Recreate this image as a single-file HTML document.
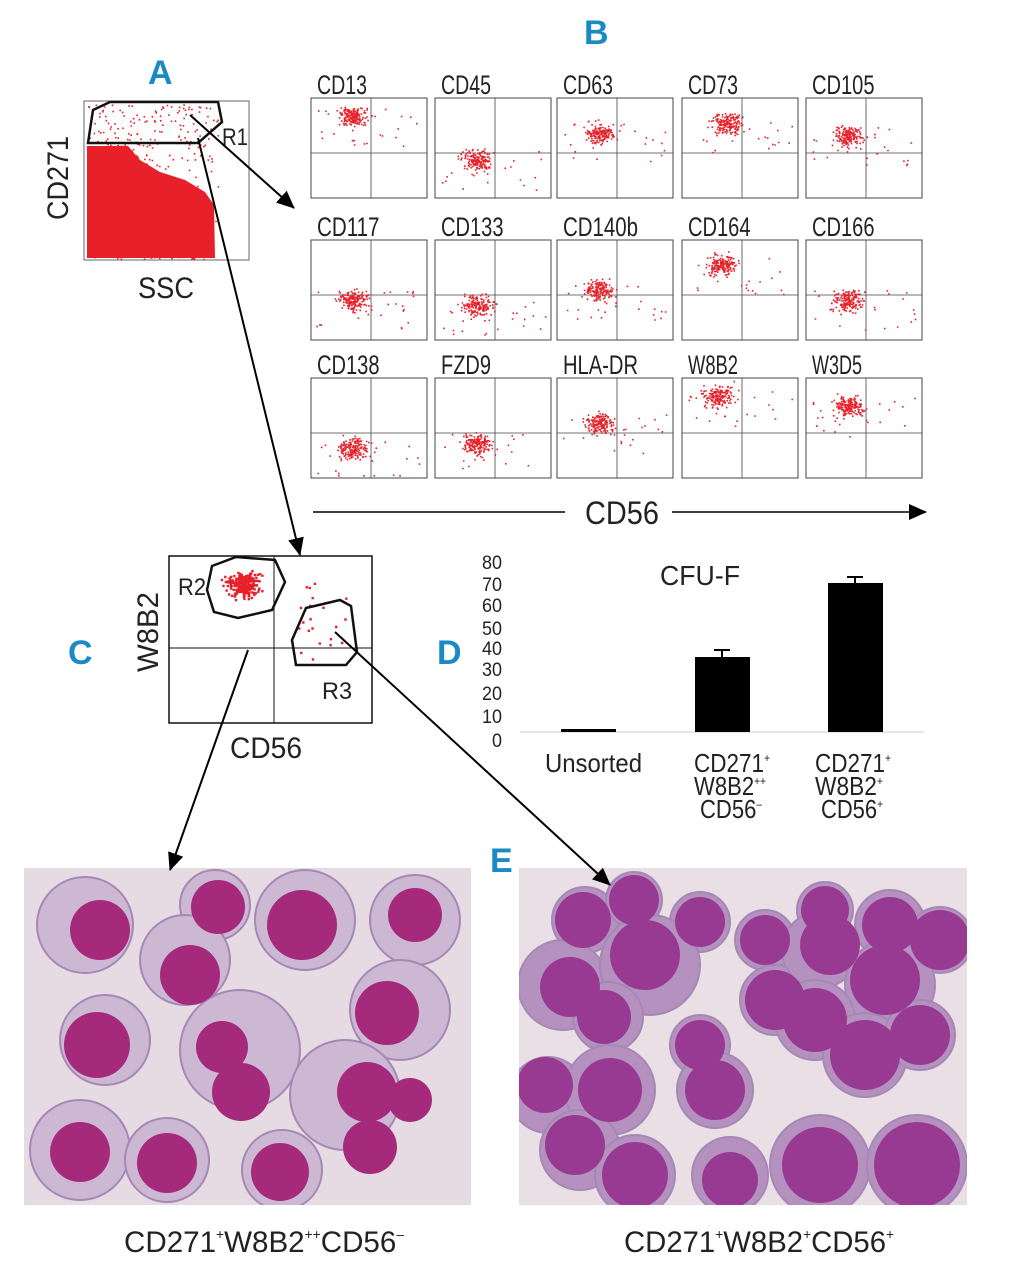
<!DOCTYPE html>
<html><head><meta charset="utf-8"><style>
html,body{margin:0;padding:0;background:#fff}
svg{display:block}
text{font-family:"Liberation Sans Narrow","Liberation Sans",sans-serif;fill:#222}
.L{font-family:"Liberation Sans",sans-serif;font-weight:bold;fill:#1a8ac4}
</style></head><body>
<svg id="s" width="1016" height="1280" viewBox="0 0 1016 1280" xmlns="http://www.w3.org/2000/svg">
<defs>
<marker id="ah2" markerWidth="18" markerHeight="16" refX="17" refY="8" orient="auto" markerUnits="userSpaceOnUse" viewBox="0 0 18 16">
<path d="M0,0 L18,8 L0,16 z" fill="#000"/></marker>
<clipPath id="cpL"><rect x="24" y="868" width="447" height="337"/></clipPath>
<clipPath id="cpR"><rect x="519" y="868" width="448" height="337"/></clipPath>
</defs>
<text class="L" x="148" y="84" font-size="34">A</text>
<text class="L" x="584" y="44" font-size="34">B</text>
<text class="L" x="68" y="664" font-size="34">C</text>
<text class="L" x="437" y="664" font-size="34">D</text>
<text class="L" x="490" y="872" font-size="34">E</text>

<!-- Panel A -->
<rect x="84" y="101" width="165" height="159" fill="#fff" stroke="#666" stroke-width="1"/>
<g id="dotsA"></g>
<path d="M93,110 L110,102 L218,102 L222,122 L198,143 L160,143 L88,143 Z" fill="none" stroke="#111" stroke-width="2.5"/>
<text x="222" y="145" font-size="24" textLength="26" lengthAdjust="spacingAndGlyphs">R1</text>
<text x="138" y="298" font-size="30" textLength="56" lengthAdjust="spacingAndGlyphs">SSC</text>
<text transform="translate(68,220) rotate(-90)" font-size="30" textLength="84" lengthAdjust="spacingAndGlyphs">CD271</text>

<g id="gridB"></g>
<line x1="313" y1="512" x2="565" y2="512" stroke="#000" stroke-width="1.5"/>
<line x1="672" y1="512" x2="926" y2="512" stroke="#000" stroke-width="1.5" marker-end="url(#ah2)"/>
<text x="585" y="524" font-size="32" textLength="74" lengthAdjust="spacingAndGlyphs">CD56</text>

<!-- Panel C -->
<rect x="169" y="556" width="203" height="167" fill="#fff" stroke="#111" stroke-width="1.5"/>
<line x1="274" y1="556" x2="274" y2="723" stroke="#111" stroke-width="1"/>
<line x1="169" y1="648" x2="372" y2="648" stroke="#111" stroke-width="1"/>
<g id="dotsC"></g>
<path d="M212,566 L236,557 L275,560 L285,582 L272,610 L238,618 L214,612 L207,590 Z" fill="none" stroke="#111" stroke-width="2.5"/>
<path d="M306,608 L340,600 L351,606 L357,652 L346,665 L296,665 L292,640 Z" fill="none" stroke="#111" stroke-width="2.5"/>
<text x="178" y="595" font-size="24" textLength="28" lengthAdjust="spacingAndGlyphs">R2</text>
<text x="322" y="699" font-size="24" textLength="30" lengthAdjust="spacingAndGlyphs">R3</text>
<text x="230" y="758" font-size="30" textLength="72" lengthAdjust="spacingAndGlyphs">CD56</text>
<text transform="translate(158,672) rotate(-90)" font-size="30" textLength="80" lengthAdjust="spacingAndGlyphs">W8B2</text>

<!-- Panel D -->
<g font-size="19">
<text x="482" y="569" textLength="20" lengthAdjust="spacingAndGlyphs">80</text>
<text x="482" y="591" textLength="20" lengthAdjust="spacingAndGlyphs">70</text>
<text x="482" y="612" textLength="20" lengthAdjust="spacingAndGlyphs">60</text>
<text x="482" y="635" textLength="20" lengthAdjust="spacingAndGlyphs">50</text>
<text x="482" y="655" textLength="20" lengthAdjust="spacingAndGlyphs">40</text>
<text x="482" y="676" textLength="20" lengthAdjust="spacingAndGlyphs">30</text>
<text x="482" y="700" textLength="20" lengthAdjust="spacingAndGlyphs">20</text>
<text x="482" y="723" textLength="20" lengthAdjust="spacingAndGlyphs">10</text>
<text x="492" y="747" textLength="10" lengthAdjust="spacingAndGlyphs">0</text>
</g>
<line x1="520" y1="732" x2="924" y2="732" stroke="#ccc" stroke-width="1"/>
<rect x="561" y="729" width="55" height="3" fill="#000"/>
<rect x="695" y="657" width="55" height="75" fill="#000"/>
<line x1="722" y1="657" x2="722" y2="650" stroke="#000" stroke-width="2"/><line x1="714" y1="650" x2="730" y2="650" stroke="#000" stroke-width="2"/>
<rect x="828" y="583" width="55" height="149" fill="#000"/>
<line x1="855" y1="583" x2="855" y2="577" stroke="#000" stroke-width="2"/><line x1="847" y1="577" x2="863" y2="577" stroke="#000" stroke-width="2"/>
<text x="660" y="585" font-size="28" textLength="80" lengthAdjust="spacingAndGlyphs">CFU-F</text>
<text x="545" y="772" font-size="26" textLength="97" lengthAdjust="spacingAndGlyphs">Unsorted</text>
<g font-size="26">
<text x="694" y="772" textLength="76" lengthAdjust="spacingAndGlyphs">CD271<tspan font-size="12" dy="-10">+</tspan></text>
<text x="694" y="795" textLength="72" lengthAdjust="spacingAndGlyphs">W8B2<tspan font-size="12" dy="-10">++</tspan></text>
<text x="700" y="818" textLength="62" lengthAdjust="spacingAndGlyphs">CD56<tspan font-size="12" dy="-10">–</tspan></text>
<text x="815" y="772" textLength="76" lengthAdjust="spacingAndGlyphs">CD271<tspan font-size="12" dy="-10">+</tspan></text>
<text x="815" y="795" textLength="68" lengthAdjust="spacingAndGlyphs">W8B2<tspan font-size="12" dy="-10">+</tspan></text>
<text x="821" y="818" textLength="62" lengthAdjust="spacingAndGlyphs">CD56<tspan font-size="12" dy="-10">+</tspan></text>
</g>

<rect x="24" y="868" width="447" height="337" fill="#e6dbe2"/>
<rect x="519" y="868" width="448" height="337" fill="#e9dfe5"/>
<g id="cellsL" clip-path="url(#cpL)"></g>
<g id="cellsR" clip-path="url(#cpR)"></g>

<line x1="190" y1="115" x2="294" y2="208" stroke="#000" stroke-width="2" marker-end="url(#ah2)"/>
<line x1="198" y1="138" x2="300" y2="555" stroke="#000" stroke-width="2" marker-end="url(#ah2)"/>
<line x1="248" y1="650" x2="170" y2="870" stroke="#000" stroke-width="2" marker-end="url(#ah2)"/>
<line x1="335" y1="632" x2="610" y2="885" stroke="#000" stroke-width="2" marker-end="url(#ah2)"/>

<g font-size="30">
<text x="124" y="1252" textLength="280" lengthAdjust="spacingAndGlyphs">CD271<tspan font-size="14" dy="-13">+</tspan><tspan dy="13">W8B2</tspan><tspan font-size="14" dy="-13">++</tspan><tspan dy="13">CD56</tspan><tspan font-size="14" dy="-13">–</tspan></text>
<text x="624" y="1252" textLength="270" lengthAdjust="spacingAndGlyphs">CD271<tspan font-size="14" dy="-13">+</tspan><tspan dy="13">W8B2</tspan><tspan font-size="14" dy="-13">+</tspan><tspan dy="13">CD56</tspan><tspan font-size="14" dy="-13">+</tspan></text>
</g>
</svg>
<script>
var NS="http://www.w3.org/2000/svg";
var seed=12345;function rnd(){seed=(seed*1103515245+12345)%2147483648;return seed/2147483648;}
function g(){return (rnd()+rnd()+rnd()+rnd()-2)*0.87;}
function el(p,n,a){var e=document.createElementNS(NS,n);for(var k in a)e.setAttribute(k,a[k]);p.appendChild(e);return e;}
var A=document.getElementById('dotsA');
el(A,'path',{d:'M87,146 L128,146 L140,160 L160,172 L185,180 L205,192 L214,205 L215,258 L87,258 Z',fill:'#e8202a'});
var dA='';
for(var i=0;i<1400;i++){var x=88+rnd()*130,y=104+rnd()*155;
 var dens;
 if(y<145)dens=0.3;
 else dens=Math.max(0,1-Math.max(0,x-120)/(30+(y-145)*0.9))*0.9+0.08;
 if(rnd()<dens)dA+='M'+x.toFixed(1)+','+y.toFixed(1)+'h1.6v1.6h-1.6z';}
el(A,'path',{d:dA,fill:'#e8202a'});
var B=document.getElementById('gridB');
var cols=[311,435,557,682,806],rows=[98,240,378];
var labs=[["CD13","CD45","CD63","CD73","CD105"],["CD117","CD133","CD140b","CD164","CD166"],["CD138","FZD9","HLA-DR","W8B2","W3D5"]];
var cl=[[[42,18],[42,62],[42,35],[45,25],[42,38]],[[42,60],[42,65],[42,50],[40,25],[42,60]],[[42,70],[42,65],[42,45],[35,18],[42,28]]];
for(var r=0;r<3;r++)for(var c=0;c<5;c++){
 var x0=cols[c],y0=rows[r];
 el(B,'rect',{x:x0,y:y0,width:116,height:100,fill:'#fff',stroke:'#444','stroke-width':1});
 el(B,'line',{x1:x0+60,y1:y0,x2:x0+60,y2:y0+100,stroke:'#444','stroke-width':0.8});
 el(B,'line',{x1:x0,y1:y0+55,x2:x0+116,y2:y0+55,stroke:'#444','stroke-width':0.8});
 var t=el(B,'text',{x:x0+6,y:y0-4,'font-size':27,textLength:labs[r][c].length*12.5,lengthAdjust:'spacingAndGlyphs'});t.textContent=labs[r][c];
 var d='',cx=x0+cl[r][c][0],cy=y0+cl[r][c][1];
 for(var k=0;k<170;k++){var px=cx+g()*14,py=cy+g()*10;d+='M'+px.toFixed(1)+','+py.toFixed(1)+'h1.6v1.6h-1.6z';}
 for(var k=0;k<25;k++){var px=x0+5+rnd()*105,py=cy-10+rnd()*40;if(py>y0+97)py=y0+97;if(py<y0+3)py=y0+3;d+='M'+px.toFixed(1)+','+py.toFixed(1)+'h1.6v1.6h-1.6z';}
 el(B,'path',{d:d,fill:'#e8202a'});
}
var C=document.getElementById('dotsC'),dC='';
for(var k=0;k<260;k++){var px=243+g()*16,py=584+g()*12;dC+='M'+px.toFixed(1)+','+py.toFixed(1)+'h2.4v2.4h-2.4z';}
for(var k=0;k<22;k++){var px=290+rnd()*60,py=580+rnd()*85;dC+='M'+px.toFixed(1)+','+py.toFixed(1)+'h2.4v2.4h-2.4z';}
el(C,'path',{d:dC,fill:'#e8202a'});
function cells(id,list,cy,nu){var G=document.getElementById(id);
 list.forEach(function(c){if(c[2]>0)el(G,'circle',{cx:c[0],cy:c[1],r:c[2],fill:cy,stroke:'#a588b4','stroke-width':2});});
 list.forEach(function(c){el(G,'circle',{cx:c[3],cy:c[4],r:c[5],fill:nu});});}
cells('cellsL',[
[85,925,48,100,930,30],[215,905,35,218,907,27],[185,960,45,190,975,30],[305,920,50,302,925,35],[415,920,45,415,915,27],
[400,1010,50,387,1013,32],[105,1040,45,97,1045,33],[240,1050,60,222,1047,26],[240,1050,0,241,1092,29],
[345,1095,55,367,1092,30],[345,1095,0,410,1100,22],[345,1095,0,370,1147,27],[80,1150,50,80,1152,30],[167,1160,42,167,1163,30],[282,1170,40,280,1172,29]
],'#cdb8d3','#a52a7c');
cells('cellsR',[
[585,920,33,583,920,28],[634,900,28,634,900,25],[700,922,30,700,922,25],[563,985,45,570,987,30],[650,965,50,645,955,35],
[608,1017,35,604,1017,27],[765,940,30,765,940,25],[825,910,28,825,910,24],[775,1000,35,775,1000,30],[820,950,38,830,945,30],
[890,925,35,890,925,28],[940,940,33,940,940,30],[890,985,45,885,980,35],[815,1020,40,815,1020,32],[865,1055,42,865,1055,35],
[920,1035,35,920,1035,30],[548,1095,38,545,1085,28],[610,1090,45,610,1090,32],[580,1150,40,575,1145,30],[635,1175,40,635,1175,33],
[700,1045,30,700,1045,25],[715,1090,38,715,1090,30],[730,1175,38,730,1180,28],[820,1165,50,820,1165,38],[917,1165,50,917,1165,43]
],'#b591c0','#983a92');
</script>
</body></html>
